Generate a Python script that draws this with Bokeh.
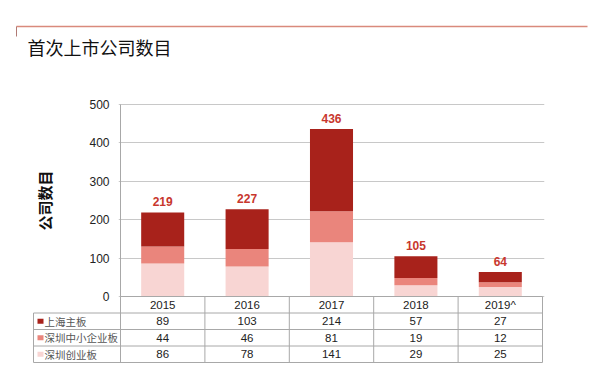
from bokeh.plotting import figure
from bokeh.models import Range1d, FixedTicker, ColumnDataSource
from bokeh.layouts import column
from bokeh.embed import file_html
from bokeh.resources import INLINE
from bokeh.core.properties import value

# ---------------- data ----------------
years = ["2015", "2016", "2017", "2018", "2019^"]
shanghai = [89, 103, 214, 57, 27]        # 上海主板
sme = [44, 46, 81, 19, 12]               # 深圳中小企业板
chinext = [86, 78, 141, 29, 25]          # 深圳创业板
series_names = ["上海主板", "深圳中小企业板", "深圳创业板"]
y_ticks = [0, 100, 200, 300, 400, 500]
title_text = "首次上市公司数目"
y_label = "公司数目"

# ---------------- style ----------------
C_DARK = "#A8221B"
C_MID = "#EA857C"
C_LIGHT = "#F8D5D3"
C_TOTAL = "#C8372D"
C_GRID = "#c8c8c8"
C_TABLE = "#a8a8a8"
FONT = "Liberation Sans"
CJK = "Noto Sans CJK SC"

W = 600
COL_PX = 84.4          # px per category column
K = 191.0 / 500.0      # px per value unit
ROW_PX = 16.5
PAD_X = 2 / COL_PX

n = len(years)
totals = [a + b + c for a, b, c in zip(shanghai, sme, chinext)]

common = dict(output_backend="svg", toolbar_location=None)

# ---------------- header ----------------
HEADER_H = 68
hdr = figure(width=W, height=HEADER_H, x_range=Range1d(0, W), y_range=Range1d(HEADER_H, 0),
             min_border=0, x_axis_location=None, y_axis_location=None, **common)
hdr.frame_align = False
hdr.grid.visible = False
hdr.outline_line_color = None
hdr.segment(x0=[16], y0=[26], x1=[587], y1=[26], line_color="#D98A7C", line_width=1.5)
hdr.segment(x0=[16], y0=[26], x1=[16], y1=[36], line_color="#B07A74", line_width=1)
hdr.text(x=[27], y=[46], text=[title_text], text_font=value(CJK), text_font_size="18px",
         text_color="#111111", text_baseline="middle", text_align="left")

# ---------------- chart ----------------
p = figure(width=W, height=236,
           x_range=Range1d(-PAD_X, n + PAD_X),
           y_range=Range1d(-2 / K, 500 + 2 / K),
           x_axis_location=None,
           min_border_left=118, min_border_right=56, min_border_top=34, min_border_bottom=6,
           **common)
p.frame_align = False
p.outline_line_color = None
p.xgrid.visible = False
p.yaxis.ticker = FixedTicker(ticks=y_ticks)
p.ygrid.grid_line_color = C_GRID
p.yaxis.axis_line_color = None
p.yaxis.major_tick_line_color = None
p.yaxis.minor_tick_line_color = None
p.yaxis.major_label_standoff = 3
p.yaxis.major_label_text_font = FONT
p.yaxis.major_label_text_font_size = "12px"
p.yaxis.major_label_text_color = "#222222"
p.yaxis.axis_label = y_label
p.yaxis.axis_label_text_font = CJK
p.yaxis.axis_label_text_font_size = "15px"
p.yaxis.axis_label_text_font_style = "bold"
p.yaxis.axis_label_text_color = "#111111"
p.yaxis.axis_label_standoff = 31

xs = [i + 0.5 for i in range(n)]
src = ColumnDataSource(dict(x=xs, years=years, chinext=chinext, sme=sme, shanghai=shanghai,
                            total=totals))
p.vbar_stack(["chinext", "sme", "shanghai"], x="x", width=0.51, source=src,
             color=[C_LIGHT, C_MID, C_DARK], line_color=None)
p.text(x="x", y="total", text="total", source=src, text_font=value(FONT),
       text_font_size="12px", text_font_style="bold", text_color=C_TOTAL,
       text_align="center", text_baseline="bottom", y_offset=-6)
# left axis line of the plot area
p.segment(x0=[0], y0=[0], x1=[0], y1=[500], line_color=C_TABLE, line_width=1)

# ---------------- data table ----------------
LABEL_COL = -(120 - 33) / COL_PX
tb = figure(width=W, height=72,
            x_range=Range1d(-(120 - 31) / COL_PX, n + PAD_X),
            y_range=Range1d(4 + 2 / ROW_PX, -2 / ROW_PX),
            x_axis_location=None, y_axis_location=None,
            min_border_left=31, min_border_right=56, min_border_top=0, min_border_bottom=2,
            **common)
tb.frame_align = False
tb.margin = (-10, 0, 0, 0)
tb.grid.visible = False
tb.outline_line_color = None
tb.background_fill_alpha = 0
tb.border_fill_alpha = 0

hx0, hy0, hx1, hy1 = [], [], [], []
for m in range(5):
    hx0.append(0 if m == 0 else LABEL_COL); hx1.append(n); hy0.append(m); hy1.append(m)
for i in range(n + 1):
    hx0.append(i); hx1.append(i); hy0.append(0); hy1.append(4)
hx0.append(LABEL_COL); hx1.append(LABEL_COL); hy0.append(1); hy1.append(4)
tb.segment(x0=hx0, y0=hy0, x1=hx1, y1=hy1, line_color=C_TABLE, line_width=1)

tx, ty, tt = [], [], []
for i, yr in enumerate(years):
    tx.append(i + 0.5); ty.append(0.5); tt.append(yr)
for j, ser in enumerate([shanghai, sme, chinext]):
    for i, v in enumerate(ser):
        tx.append(i + 0.5); ty.append(j + 1.5); tt.append(str(v))
tb.text(x=tx, y=ty, text=tt, text_font=value(FONT), text_font_size="11.5px",
        text_color="#222222", text_align="center", text_baseline="middle")

# legend squares and series names
row_c = [j + 1.5 for j in range(3)]
tb.rect(x=[(40 - 120) / COL_PX] * 3, y=row_c, width=6, height=5,
        width_units="screen", height_units="screen",
        fill_color=[C_DARK, C_MID, C_LIGHT], line_color=None)
tb.text(x=[(44 - 120) / COL_PX] * 3, y=row_c, text=series_names, text_font=value(CJK),
        text_font_size="10.5px", text_color="#555555", text_align="left",
        text_baseline="middle")

layout = column(hdr, p, tb, spacing=0)
open("out.html", "w").write(file_html(layout, INLINE))
